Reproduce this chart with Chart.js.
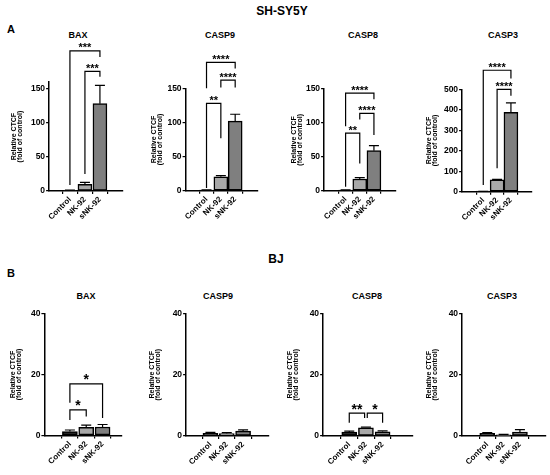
<!DOCTYPE html>
<html>
<head>
<meta charset="utf-8">
<script src="https://cdn.jsdelivr.net/npm/chart.js@4.4.0/dist/chart.umd.min.js"></script>
<style>
  html, body { margin: 0; padding: 0; background: #fff; overflow: hidden; }
  #fig { position: relative; width: 550px; height: 475px; font-family: 'Liberation Sans', Arial, sans-serif; font-weight: bold; color: #000; }
  .lbl { position: absolute; transform: translate(-50%, -50%); white-space: nowrap; line-height: 1; }
  canvas { position: absolute; }
</style>
</head>
<body>
<div id="fig">
  <div class="lbl" style="left:282px;top:11px;font-size:12px">SH-SY5Y</div>
  <div class="lbl" style="left:11px;top:29px;font-size:11px">A</div>
  <div class="lbl" style="left:11px;top:273px;font-size:11px">B</div>
  <div class="lbl" style="left:276px;top:259px;font-size:12px">BJ</div>
</div>
<script>
var genes = ['BAX', 'CASP9', 'CASP8', 'CASP3'];
var groups = ['Control', 'NK-92', 'sNK-92'];
var yTitle = ['Relative CTCF', '(fold of control)'];

// A: SH-SY5Y
var shMeans = [[1, 9.8, 128.4], [1, 20.5, 102], [1, 17.3, 59], [1, 58, 388]];
var shErrors = [[0.3, 3, 27], [0.3, 1.5, 10], [0.3, 2, 7.4], [0.3, 2, 46]];
var shTicks = [[0, 50, 100, 150], [0, 50, 100, 150], [0, 50, 100, 150], [0, 100, 200, 300, 400, 500]];
var shAxisMax = [160, 150, 150, 500];
// [from group, to group, bracket level, left leg end, right leg end, label]
var shSig = [
  [[0, 2, 206, 9, 197, '***'], [1, 2, 176, 25, 168, '***']],
  [[0, 2, 188, 150, 179, '****'], [1, 2, 162, 151, 151, '****'], [0, 1, 128, 4, 77, '**']],
  [[0, 2, 144, 95, 135, '****'], [1, 2, 114, 105, 82, '****'], [0, 1, 85, 6, 40, '**']],
  [[0, 2, 593, 33, 553, '****'], [1, 2, 500, 115, 468, '****']]
];

// B: BJ
var bjMeans = [[1.3, 2.7, 2.8], [0.9, 0.8, 1.6], [1.3, 2.7, 1.4], [0.9, 0.4, 1.3]];
var bjErrors = [[0.5, 0.7, 0.8], [0.3, 0.3, 0.4], [0.3, 0.2, 0.3], [0.2, 0.1, 0.8]];
var bjTicks = [0, 20, 40];
var bjSig = [
  [[0, 2, 16.9, 10.7, 5.7, '*'], [0, 1, 8.4, 5.1, 6.2, '*']],
  [],
  [[0, 0.92, 7.5, 4.3, 5.9, '**'], [1.08, 2, 7.5, 5.9, 4.3, '*']],
  []
];

var barColors = ['#1e1e1e', '#a8a8a8', '#7f7f7f'];

// page geometry of each panel (px): canvas left, y-axis x, x-axis end, first/last bar centre,
// top and zero of the value axis, title centre
var shBox = [
  { L: 10.9, A: 49, E: 122, c0: 62, c2: 107, top: 82.2, zero: 191, tx: 78 },
  { L: 150.9, A: 185.5, E: 257, c0: 199, c2: 242, top: 88.3, zero: 190.7, tx: 220 },
  { L: 290.9, A: 324, E: 395, c0: 338.5, c2: 381, top: 89, zero: 190.7, tx: 363 },
  { L: 425.9, A: 462, E: 531, c0: 476.5, c2: 518, top: 89.3, zero: 191.7, tx: 503 }
];
var bjBox = [
  { L: 9.6, A: 44, E: 121, c0: 63, c2: 112, top: 313.5, zero: 435.5, tx: 86 },
  { L: 148.9, A: 186, E: 268, c0: 202, c2: 251, top: 313.5, zero: 436, tx: 218 },
  { L: 286.9, A: 323, E: 412, c0: 340, c2: 390, top: 313.5, zero: 436, tx: 367 },
  { L: 425.9, A: 462, E: 545, c0: 479, c2: 528, top: 313.5, zero: 436, tx: 502 }
];

var fig = document.getElementById('fig');
var FONT = "'Liberation Sans', Arial, sans-serif";

// error bars (upper SD) and significance brackets
var extras = {
  id: 'extras',
  afterDatasetsDraw: function (chart, args, opts) {
    var ctx = chart.ctx, x = chart.scales.x, y = chart.scales.y;
    ctx.save();
    ctx.strokeStyle = '#000';
    ctx.lineWidth = 1.2;
    chart.getDatasetMeta(0).data.forEach(function (bar, i) {
      var top = y.getPixelForValue(opts.means[i] + opts.errors[i]);
      ctx.beginPath();
      ctx.moveTo(bar.x, bar.y);
      ctx.lineTo(bar.x, top);
      ctx.moveTo(bar.x - opts.cap / 2, top);
      ctx.lineTo(bar.x + opts.cap / 2, top);
      ctx.stroke();
    });
    ctx.fillStyle = '#000';
    ctx.textAlign = 'center';
    ctx.textBaseline = 'alphabetic';
    ctx.font = 'bold ' + opts.starSize + 'px ' + FONT;
    opts.sig.forEach(function (s) {
      var xa = x.getPixelForValue(s[0]), xb = x.getPixelForValue(s[1]);
      var yl = y.getPixelForValue(s[2]);
      ctx.beginPath();
      ctx.moveTo(xa, y.getPixelForValue(s[3]));
      ctx.lineTo(xa, yl);
      ctx.lineTo(xb, yl);
      ctx.lineTo(xb, y.getPixelForValue(s[4]));
      ctx.stroke();
      ctx.fillText(s[5], (xa + xb) / 2, yl + 0.5);
    });
    ctx.restore();
  }
};

function addLabel(text, x, y, size) {
  var d = document.createElement('div');
  d.className = 'lbl';
  d.style.left = x + 'px';
  d.style.top = y + 'px';
  d.style.fontSize = size + 'px';
  d.textContent = text;
  fig.appendChild(d);
}

function panel(box, T, B, title, titleY, means, errors, ticks, yMax, sig, barW, starSize) {
  addLabel(title, box.tx, titleY, 9);
  var canvas = document.createElement('canvas');
  canvas.width = Math.round(box.E + 10 - box.L);
  canvas.height = B - T;
  canvas.style.left = box.L + 'px';
  canvas.style.top = T + 'px';
  fig.appendChild(canvas);
  var ppu = (box.c2 - box.c0) / 2;
  var axisLine = { display: true, color: '#000', width: 1.5 };
  var tickMarks = { display: true, drawOnChartArea: false, drawTicks: true, tickLength: 3, color: '#000', lineWidth: 1.2 };
  new Chart(canvas.getContext('2d'), {
    type: 'bar',
    data: {
      datasets: [{
        data: means.map(function (v, i) { return { x: i, y: v }; }),
        backgroundColor: barColors, borderColor: '#000', borderWidth: 1.5,
        borderSkipped: false, barThickness: barW
      }]
    },
    options: {
      responsive: false, animation: false,
      layout: { padding: { left: 0, right: canvas.width - (box.E - box.L), top: box.top - T, bottom: 0 } },
      plugins: {
        legend: { display: false }, tooltip: { enabled: false },
        extras: { means: means, errors: errors, sig: sig, cap: 10, starSize: starSize }
      },
      scales: {
        x: {
          type: 'linear',
          min: -(box.c0 - box.A) / ppu, max: 2 + (box.E - box.c2) / ppu,
          afterBuildTicks: function (s) { s.ticks = groups.map(function (g, i) { return { value: i }; }); },
          afterFit: function (s) { s.height = B - box.zero; },
          grid: tickMarks, border: axisLine,
          ticks: {
            autoSkip: false, minRotation: 45, maxRotation: 45, padding: 1, color: '#000',
            font: { family: FONT, size: 8, weight: 'bold' },
            callback: function (v) { return groups[v]; }
          }
        },
        y: {
          min: 0, max: yMax,
          afterBuildTicks: function (s) { s.ticks = ticks.map(function (v) { return { value: v }; }); },
          afterFit: function (s) { s.width = box.A - box.L; },
          grid: tickMarks, border: axisLine,
          ticks: { padding: 1, color: '#000', font: { family: FONT, size: 8.5, weight: 'bold' } },
          title: {
            display: true, text: yTitle, color: '#000', padding: 0,
            font: { family: FONT, size: 7, weight: 'bold', lineHeight: 0.9 }
          }
        }
      }
    },
    plugins: [extras]
  });
}

genes.forEach(function (g, i) {
  panel(shBox[i], 20, 240, g, 34.5, shMeans[i], shErrors[i], shTicks[i], shAxisMax[i], shSig[i], 14, 11);
  panel(bjBox[i], 300, 475, g, 295.5, bjMeans[i], bjErrors[i], bjTicks, bjTicks[bjTicks.length - 1], bjSig[i], 15, 14);
});
</script>
</body>
</html>
